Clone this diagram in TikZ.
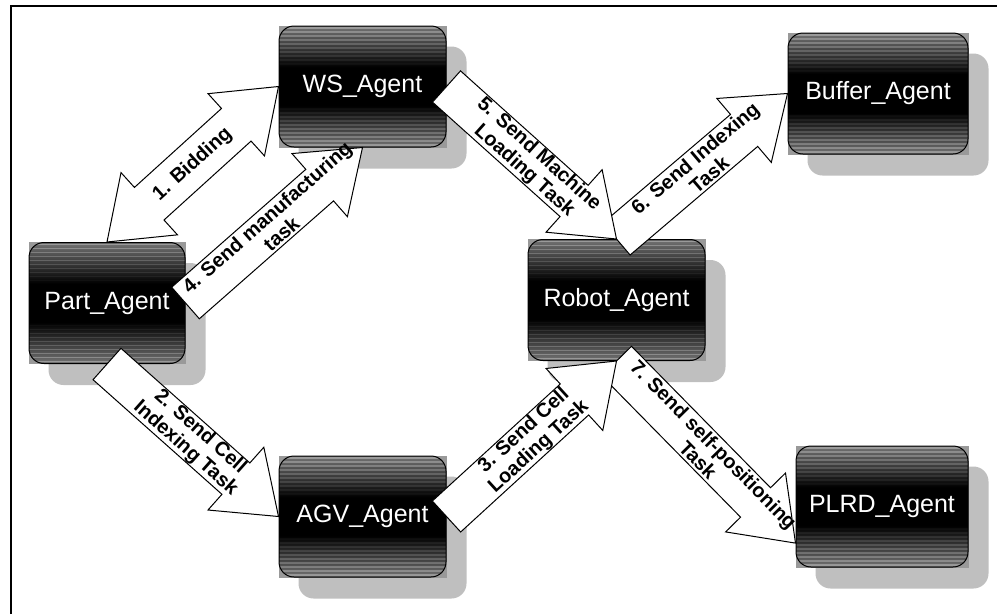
\documentclass[tikz,border=0pt]{standalone}
\usepackage{fontspec}
\setmainfont{Liberation Sans}
\usetikzlibrary{calc, backgrounds}

\pgfdeclareverticalshading{agentfill}{100bp}{color(0bp)=(black!55); color(25bp)=(black!55); color(42bp)=(black); color(58bp)=(black); color(75bp)=(black!55); color(100bp)=(black!55)}

\begin{document}
\begin{tikzpicture}[x=1pt, y=-1pt,
    agent/.style={draw, line width=1pt, rounded corners=15pt, shade, shading=agentfill,
      minimum width=167pt, minimum height=121pt, text=white,
      font=\fontsize{25}{30}\selectfont,
      path picture={
        \foreach \k [evaluate=\k as \op using 0.3-0.03*\k] in {0,...,9} {
          \draw[white, opacity=\op, line width=1.2pt]
            ([yshift={-(2+4*\k)*1pt}]path picture bounding box.north west) -- ([yshift={-(2+4*\k)*1pt}]path picture bounding box.north east);
          \draw[white, opacity=\op, line width=1.2pt]
            ([yshift={(2+4*\k)*1pt}]path picture bounding box.south west) -- ([yshift={(2+4*\k)*1pt}]path picture bounding box.south east);
        }
      }},
    taskarrow/.style={draw, fill=white, line width=1pt, line join=miter, to path={
      let \p1=(\tikztostart), \p2=(\tikztotarget), \p3=($(\p2)!57pt!(\p1)$) in
      ($(\p1)!21pt!90:(\p2)$) -- ($(\p3)!21pt!-90:(\p1)$) -- ($(\p3)!42pt!-90:(\p1)$)
      -- (\p2) -- ($(\p3)!42pt!90:(\p1)$) -- ($(\p3)!21pt!90:(\p1)$)
      -- ($(\p1)!21pt!-90:(\p2)$) -- cycle}},
    biddingarrow/.style={draw, fill=white, line width=1pt, line join=miter, to path={
      let \p1=(\tikztostart), \p2=(\tikztotarget), \p3=($(\p2)!57pt!(\p1)$), \p4=($(\p1)!57pt!(\p2)$) in
      (\p1) -- ($(\p4)!42pt!90:(\p2)$) -- ($(\p4)!22pt!90:(\p2)$)
      -- ($(\p3)!22pt!-90:(\p1)$) -- ($(\p3)!42pt!-90:(\p1)$) -- (\p2)
      -- ($(\p3)!42pt!90:(\p1)$) -- ($(\p3)!22pt!90:(\p1)$)
      -- ($(\p4)!22pt!-90:(\p2)$) -- ($(\p4)!42pt!-90:(\p2)$) -- cycle}},
    tasklabel/.style={midway, sloped, align=center, inner sep=0pt,
      font=\bfseries\fontsize{20}{22}\selectfont}]
    \useasboundingbox (0,0) rectangle (997,614);

    % frame
    \draw[line width=1.5pt] (11,614) -- (11,6) -- (997,6);

    % agents
    \node[agent] (ws) at (362.5,86.5) {WS\_Agent};
    \node[agent, minimum width=156pt] (part) at (107,303) {Part\_Agent};
    \node[agent, minimum width=180pt] (buffer) at (878,93.5) {Buffer\_Agent};
    \node[agent, minimum width=177pt] (robot) at (616.5,300) {Robot\_Agent};
    \node[agent] (agv) at (362.5,516.5) {AGV\_Agent};
    \node[agent, minimum width=172pt] (plrd) at (882,506.5) {PLRD\_Agent};
    \coordinate (plrdin) at ($(plrd.south west)!0.2!(plrd.north west)$);

    % shadows
    \begin{scope}[on background layer]
        \foreach \a in {ws, part, buffer, robot, agv, plrd} {
            \fill[black!25, rounded corners=15pt] ([shift={(20,21)}]\a.north west) rectangle ([shift={(20,21)}]\a.south east);
            \fill[black!40] (\a.north west) rectangle (\a.south east);
        }
    \end{scope}

    % messages
    \draw[biddingarrow] (part.north) to (ws.west);
    \path (part.north) -- (ws.west) node[tasklabel] {1. Bidding};

    \draw[taskarrow] (part.east) to (ws.south);
    \path (part.east) -- (ws.south) node[tasklabel] {4. Send manufacturing\\task};

    \draw[taskarrow] (part.south) to (agv.west);
    \path (part.south) -- (agv.west) node[tasklabel] {2. Send Cell\\Indexing Task};

    \draw[taskarrow] (robot.north) to (buffer.west);
    \path (robot.north) -- (buffer.west) node[tasklabel] {6. Send Indexing\\Task};

    \draw[taskarrow] (ws.east) to (robot.north);
    \path (ws.east) -- (robot.north) node[tasklabel] {5. Send Machine\\Loading Task};

    \draw[taskarrow] (robot.south) to (plrdin);
    \path (robot.south) -- (plrdin) node[tasklabel] {7. Send self-positioning\\Task};

    \draw[taskarrow] (agv.east) to (robot.south);
    \path (agv.east) -- (robot.south) node[tasklabel] {3. Send Cell\\Loading Task};
\end{tikzpicture}
\end{document}
